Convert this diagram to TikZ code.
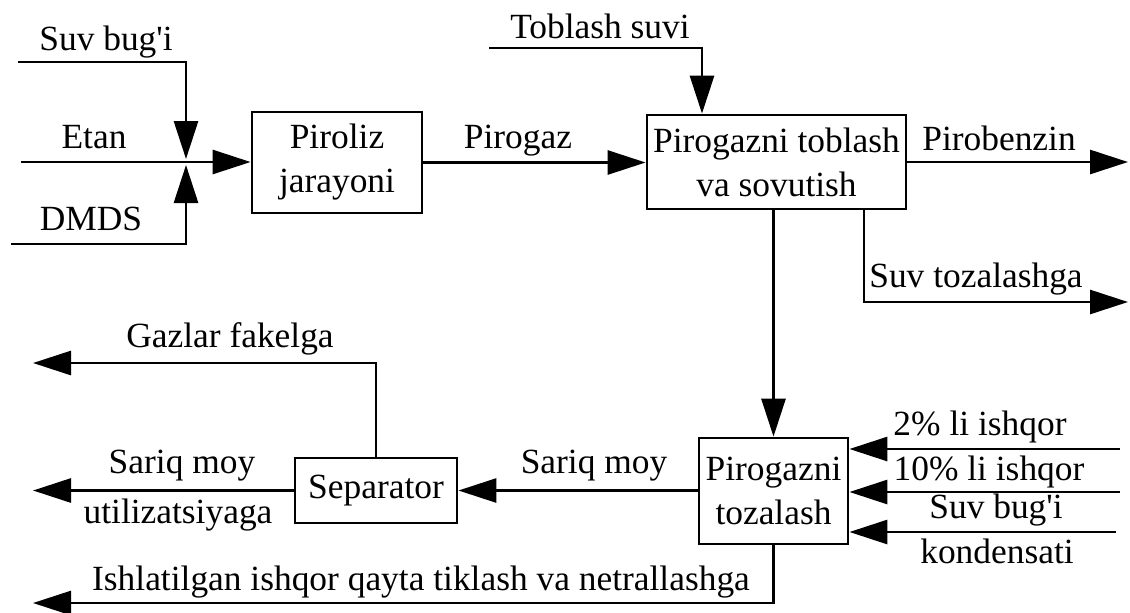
\documentclass[tikz,border=0pt]{standalone}
\usepackage{fontspec}
\setmainfont{Liberation Serif}[Ligatures=TeXOff]
\usetikzlibrary{arrows.meta}
\begin{document}
\begin{tikzpicture}[x=0.5pt,y=-0.5pt,
  every node/.style={font=\fontsize{17.7}{22}\selectfont},
  box/.style={draw,line width=1.4pt,inner sep=0pt,align=center},
  lbl/.style={anchor=base,inner sep=0pt},
  flow/.style={line width=1.4pt,-{Triangle[length=19pt,width=12pt]}}]
\useasboundingbox (0,0) rectangle (1130,612);

% boxes
\node[box,minimum width=85pt,minimum height=50.5pt] (pir) at (337,162.5) {Piroliz\\jarayoni};
\node[box,minimum width=129.5pt,minimum height=47pt] (tob) at (776.5,162) {Pirogazni toblash\\va sovutish};
\node[box,minimum width=74.5pt,minimum height=53pt] (toz) at (773.5,491) {Pirogazni\\tozalash};
\node[box,minimum width=81pt,minimum height=32.5pt] (sep) at (376,490.5) {Separator};

% free ends
\coordinate (sb0) at (18,62);
\coordinate (sb1) at (186,62);
\coordinate (sbt) at (186,159);
\coordinate (dm0) at (11,244);
\coordinate (dm1) at (186,244);
\coordinate (dmt) at (186,165);
\coordinate (et0) at (21,162);
\coordinate (ts0) at (489,48);
\coordinate (ts1) at (702,48);
\coordinate (pb) at (1128,162);
\coordinate (st1) at (864,302);
\coordinate (st2) at (1128,302);
\coordinate (i1) at (1120,449);
\coordinate (i2) at (1120,492);
\coordinate (i3) at (1116,532);
\coordinate (so) at (33,490.5);
\coordinate (gz1) at (376,363);
\coordinate (gz2) at (33,363);
\coordinate (bt1) at (773.5,603);
\coordinate (bt2) at (33,603);

% connectors
\draw[flow] (sb0) -- (sb1) -- (sbt);
\draw[flow] (dm0) -- (dm1) -- (dmt);
\draw[flow] (et0) -- (et0 -| pir.west);
\draw[flow] (pir.east) -- (pir.east -| tob.west);
\draw[flow] (ts0) -- (ts1) -- (ts1 |- tob.north);
\draw[flow] (tob.east) -- (pb);
\draw[flow] (st1 |- tob.south) -- (st1) -- (st2);
\draw[flow] (tob.south -| toz.north) -- (toz.north);
\draw[flow] (i1) -- (i1 -| toz.east);
\draw[flow] (i2) -- (i2 -| toz.east);
\draw[flow] (i3) -- (i3 -| toz.east);
\draw[flow] (sep.east -| toz.west) -- (sep.east);
\draw[flow] (sep.west) -- (so);
\draw[flow] (sep.north) -- (gz1) -- (gz2);
\draw[flow] (toz.south) -- (bt1) -- (bt2);

% labels
\node[lbl] (l1) at (106,50) {Suv bug'i};
\node[lbl] (l2) at (94,148) {Etan};
\node[lbl] (l3) at (91,230) {DMDS};
\node[lbl] (l4) at (600,38) {Toblash suvi};
\node[lbl] (l5) at (518,148) {Pirogaz};
\node[lbl] (l6) at (999,150) {Pirobenzin};
\node[lbl] (l7) at (976,287) {Suv tozalashga};
\node[lbl] (l8) at (230,347) {Gazlar fakelga};
\node[lbl] (l9) at (182,473) {Sariq moy};
\node[lbl] (l10) at (178,523) {utilizatsiyaga};
\node[lbl] (l11) at (594,473) {Sariq moy};
\node[lbl] (l12) at (421,590) {Ishlatilgan ishqor qayta tiklash va netrallashga};
\node[lbl] (l13) at (980,435) {2\% li ishqor};
\node[lbl] (l14) at (989,480) {10\% li ishqor};
\node[lbl] (l15) at (996,518) {Suv bug'i};
\node[lbl] (l16) at (997,563) {kondensati};
\end{tikzpicture}
\end{document}
